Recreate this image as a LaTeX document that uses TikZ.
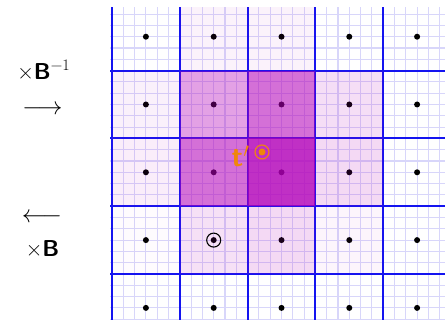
\documentclass[tikz,border=0pt]{standalone}
\usepackage{fontspec}
\definecolor{minorc}{RGB}{216,214,250}
\definecolor{majorc}{RGB}{20,20,240}
\definecolor{shadec}{rgb}{0.70,0.0,0.72}
\definecolor{orangec}{RGB}{240,135,10}
\tikzset{
  minorline/.style={minorc, line width=1.1pt},
  majorline/.style={majorc, line width=2pt},
  lbl/.style={inner sep=0pt, font=\fontsize{23}{27}\selectfont},
  arrlbl/.style={inner sep=0pt, font=\fontsize{25}{29}\selectfont},
}
\newcommand{\supm}{\raisebox{9pt}{\fontsize{16}{19}\selectfont\rmfamily −1}}
\begin{document}
\begin{tikzpicture}[x=1pt,y=-1pt]
\useasboundingbox (0,0) rectangle (445,320);
\def\ox{112}\def\oy{2.8}\def\s{67.8}\def\m{11.3}
\begin{scope}
\clip (110,8) rectangle (445,320);
% minor grid
\foreach \k in {0,...,30} \draw[minorline] (\ox+\k*\m,0) -- (\ox+\k*\m,330);
\foreach \k in {0,...,29} \draw[minorline] (100,\oy+\k*\m) -- (450,\oy+\k*\m);
% major grid
\foreach \k in {0,...,5} \draw[majorline] (\ox+\k*\s,0) -- (\ox+\k*\s,330);
\foreach \k in {0,...,5} \draw[majorline] (100,\oy+\k*\s) -- (450,\oy+\k*\s);
% dots
\foreach \i in {0,...,4}
  \foreach \j in {0,...,4}
    \fill (\ox+\i*\s+0.5*\s,\oy+\j*\s+0.5*\s) circle (3);
% shading
\foreach \i/\j/\a in {1/0/0.05,2/0/0.05,
                      0/1/0.06,1/1/0.37,2/1/0.56,3/1/0.13,
                      0/2/0.07,1/2/0.56,2/2/0.81,3/2/0.15,
                      0/3/0.015,1/3/0.12,2/3/0.15,3/3/0.04}
  \fill[shadec, fill opacity=\a] (\ox+\i*\s,\oy+\j*\s) rectangle ++(\s,\s);
\end{scope}
% markers
\coordinate (t) at (262,152);
\draw[orangec, line width=1.1pt] (t) circle (7);
\fill[orangec] (t) circle (3.5);
\node[inner sep=0pt, text=orangec, anchor=base west, font=\fontsize{29}{33}\selectfont\sffamily\bfseries] (tl) at (231.5,166.5) {t$'$};
\coordinate (p) at (213.7,240.1);
\draw[black, line width=1.1pt] (p) circle (7);
% left labels
\node[lbl, anchor=base] (binv) at (43.5,80) {×{\sffamily\bfseries B}\supm};
\node[arrlbl] (ra) at (42.5,110) {$\longrightarrow$};
\node[arrlbl] (la) at (42,218) {$\longleftarrow$};
\node[lbl, anchor=base] (b) at (42.5,257) {×{\sffamily\bfseries B}};
\end{tikzpicture}
\end{document}
